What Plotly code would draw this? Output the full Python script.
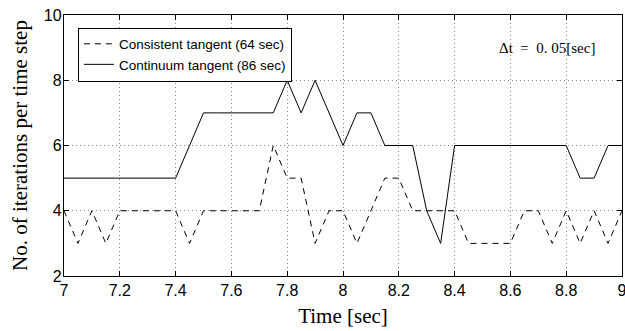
import plotly.graph_objects as go

time_sec = [7.00, 7.05, 7.10, 7.15, 7.20, 7.25, 7.30, 7.35, 7.40, 7.45,
            7.50, 7.55, 7.60, 7.65, 7.70, 7.75, 7.80, 7.85, 7.90, 7.95,
            8.00, 8.05, 8.10, 8.15, 8.20, 8.25, 8.30, 8.35, 8.40, 8.45,
            8.50, 8.55, 8.60, 8.65, 8.70, 8.75, 8.80, 8.85, 8.90, 8.95, 9.00]

consistent_iters = [4, 3, 4, 3, 4, 4, 4, 4, 4, 3,
                    4, 4, 4, 4, 4, 6, 5, 5, 3, 4,
                    4, 3, 4, 5, 5, 4, 4, 4, 4, 3,
                    3, 3, 3, 4, 4, 3, 4, 3, 4, 3, 4]

continuum_iters = [5, 5, 5, 5, 5, 5, 5, 5, 5, 6,
                   7, 7, 7, 7, 7, 7, 8, 7, 8, 7,
                   6, 7, 7, 6, 6, 6, 4, 3, 6, 6,
                   6, 6, 6, 6, 6, 6, 6, 5, 5, 6, 6]

series_names = ["Consistent tangent (64 sec)", "Continuum tangent (86 sec)"]
x_ticks = [7, 7.2, 7.4, 7.6, 7.8, 8, 8.2, 8.4, 8.6, 8.8, 9]
x_tick_labels = ["7", "7.2", "7.4", "7.6", "7.8", "8", "8.2", "8.4", "8.6", "8.8", "9"]
y_ticks = [2, 4, 6, 8, 10]

sans = "Liberation Sans, Arial, sans-serif"
serif = "Liberation Serif, Times New Roman, serif"

fig = go.Figure()
fig.add_trace(go.Scatter(x=time_sec, y=consistent_iters, mode="lines",
                         name=series_names[0],
                         line=dict(color="black", width=1, dash="6px,5px")))
fig.add_trace(go.Scatter(x=time_sec, y=continuum_iters, mode="lines",
                         name=series_names[1],
                         line=dict(color="black", width=1)))

axis_common = dict(showline=True, linecolor="black", linewidth=1.3, mirror="ticks",
                   ticks="inside", ticklen=5, tickcolor="black", tickwidth=1,
                   showgrid=True, gridcolor="#888", griddash="1px,3px", gridwidth=1,
                   zeroline=False, ticklabeloverflow="allow", automargin=False,
                   tickfont=dict(family=sans, size=16, color="black"))

fig.update_xaxes(range=[7, 9], tickvals=x_ticks, ticktext=x_tick_labels,
                 title=dict(text="Time [sec]", font=dict(family=serif, size=21, color="black"),
                            standoff=9),
                 **axis_common)
fig.update_yaxes(range=[2, 10], tickvals=y_ticks, ticklabelstandoff=-2,
                 title=dict(text="No. of iterations per time step",
                            font=dict(family=serif, size=21, color="black"), standoff=10),
                 **axis_common)

fig.add_annotation(x=0.865, y=0.875, xref="paper", yref="paper",
                   text="\u0394t\u00a0 =\u00a0 0.\u00a005[sec]", showarrow=False,
                   font=dict(family=serif, size=15, color="black"),
                   xanchor="center", yanchor="middle")

fig.update_layout(
    width=625, height=331,
    margin=dict(l=64, r=3, t=15, b=55),
    paper_bgcolor="white", plot_bgcolor="white",
    showlegend=True,
    legend=dict(x=0.025, y=0.952, xanchor="left", yanchor="top",
                bordercolor="black", borderwidth=1, bgcolor="white",
                font=dict(family=sans, size=13.5, color="black"),
                tracegroupgap=0, itemwidth=30),
)

fig.write_html("out.html")
